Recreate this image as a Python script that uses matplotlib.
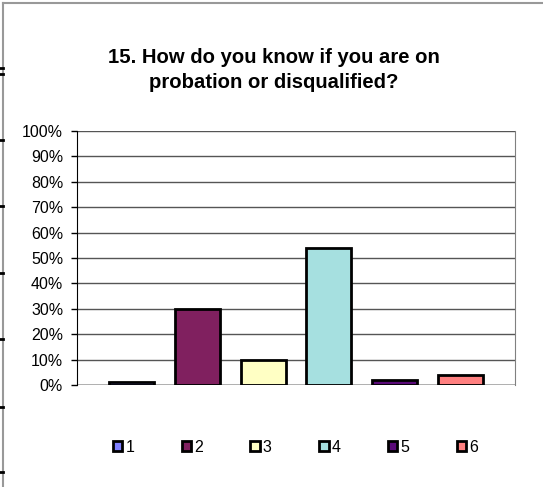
import matplotlib
matplotlib.use("Agg")
import matplotlib.pyplot as plt
from matplotlib.lines import Line2D
from matplotlib.patches import Patch
from matplotlib.ticker import PercentFormatter, MultipleLocator

plt.rcParams['font.family'] = ['Liberation Sans', 'DejaVu Sans']

# data
series = ['1', '2', '3', '4', '5', '6']
values = [1, 30, 10, 54, 2, 4]
colors = ['#8080FF', '#80205F', '#FFFFC4', '#A6E0E0', '#5A0A78', '#FF8080']
title = '15. How do you know if you are on\nprobation or disqualified?'

W, H = 543, 487
fig = plt.figure(figsize=(W / 100, H / 100), dpi=100)
ax = fig.add_axes([77 / W, (H - 385) / H, (515 - 77) / W, 254 / H])

x = list(range(len(series)))
bars = ax.bar(x, values, width=0.684, color=colors, edgecolor='black',
              linewidth=2, zorder=3)

ax.set_ylim(0, 100)
ax.set_xlim(-0.828, 5.83)
ax.yaxis.set_major_locator(MultipleLocator(10))
ax.yaxis.set_major_formatter(PercentFormatter(decimals=0))
ax.set_xticks([])
ax.grid(axis='y', color='#555555', linewidth=1, zorder=0)
ax.tick_params(axis='y', length=4, width=1, color='black', labelsize=11.5, pad=6)
for s in ['top', 'bottom']:
    ax.spines[s].set_visible(False)
ax.spines['left'].set_color('black')
ax.spines['right'].set_color('#808080')
ax.axhline(0, color='black', linewidth=1, zorder=4)

fig.text(274 / W, 1 - 70 / H, title, ha='center', va='center',
         fontsize=14.6, fontweight='bold', linespacing=1.35)

handles = [Patch(facecolor=c, edgecolor='black', linewidth=2) for c in colors]
fig.legend(handles, series, loc='center', bbox_to_anchor=(295.5 / W, 1 - 447 / H),
           ncol=6, frameon=False, fontsize=11.5, handlelength=0.6,
           handleheight=0.6, handletextpad=0.2, columnspacing=2.95)

# outer frame artifacts
fig.add_artist(Line2D([3 / W, 3 / W], [0, 1 - 3 / H], color='#999999', linewidth=1.5))
fig.add_artist(Line2D([3 / W, 1], [1 - 3 / H, 1 - 3 / H], color='#999999', linewidth=1.5))
for yy in [68, 74, 140, 206, 273, 339, 407, 472]:
    fig.add_artist(Line2D([0, 3 / W], [1 - yy / H, 1 - yy / H], color='black', linewidth=2))

fig.savefig('out.png', dpi=100)
